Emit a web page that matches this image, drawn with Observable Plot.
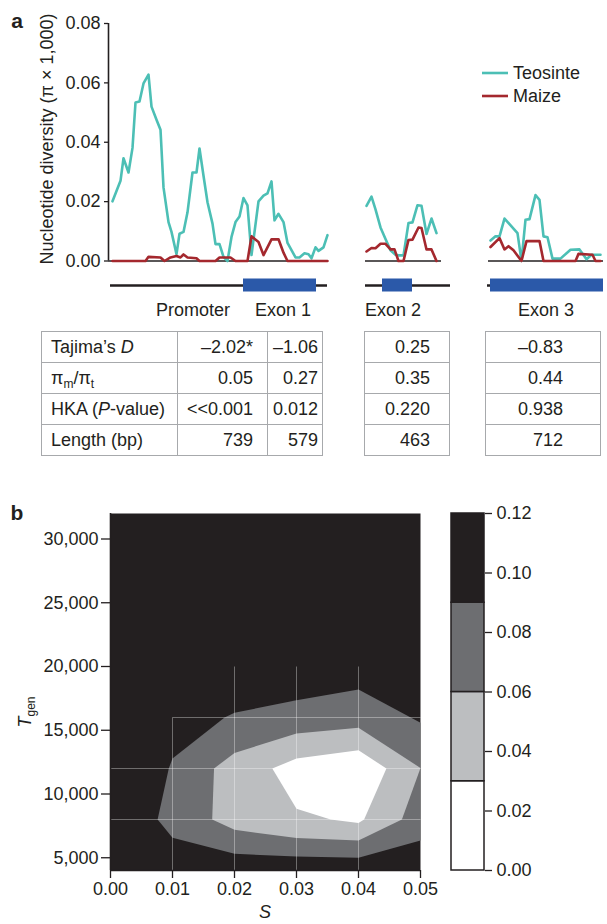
<!DOCTYPE html>
<html><head><meta charset="utf-8">
<script src="https://cdn.jsdelivr.net/npm/d3@7"></script>
<script src="https://cdn.jsdelivr.net/npm/@observablehq/plot@0.6"></script>
<style>
body{margin:0;background:#fff;}
#fig{position:relative;width:607px;height:924px;font-family:"Liberation Sans",Arial,Helvetica,sans-serif;color:#231f20;overflow:hidden;background:#fff}
.abs{position:absolute;white-space:nowrap;line-height:1}
.ctr{transform:translate(-50%,-50%)}
table.t{position:absolute;border-collapse:collapse;font-size:18px;color:#231f20}
table.t td{border:1px solid #a7a9ac;height:31px;padding:0;line-height:1;vertical-align:middle}
sub{font-size:12px;vertical-align:-4px;line-height:0}
</style></head><body><div id="fig"></div>
<script>
// ---------- Panel a data (position along gene segment, arbitrary units; diversity) ----------
const teoPos1 = [4,12,15,20,24,27,31,35,40,43,48,52,55,60,63,68,71,75,79,84,88,91,95,99,104,107,111,115,119,123,127,131,135,139,143,150,155,159,163,166,170,175,179,183,187,191,196,200,203,207,210,215,219];
const teoVal1 = [0.0201,0.027,0.0346,0.0298,0.0381,0.0534,0.0537,0.0598,0.0628,0.052,0.0476,0.0442,0.0248,0.0131,0.0098,0.0023,0.0092,0.0098,0.0164,0.0298,0.0298,0.0379,0.0287,0.0198,0.0126,0.0057,0.0057,0.0014,0.0,0.0081,0.0131,0.015,0.0212,0.0187,0.002,0.0201,0.022,0.0228,0.0268,0.0137,0.0159,0.0131,0.0061,0.0037,0.0012,0.0012,0.0026,0.0023,0.0009,0.0046,0.0034,0.0046,0.0087];
const maizePos1 = [4,37,40,52,56,62,68,72,75,79,88,91,107,111,122,127,139,143,150,155,163,170,175,179,219];
const maizeVal1 = [0,0,0.0014,0.0012,0,0.0012,0.0017,0.0012,0.0022,0.0012,0.0009,0,0,0.0012,0.0012,0,0,0.0083,0.0064,0.002,0.0073,0.0073,0.0028,0,0];
const teoPos2 = [258,263,267,272,277,282,287,290,295,300,304,309,313,318,323,328];
const teoVal2 = [0.0186,0.0217,0.0174,0.0113,0.0074,0.0036,0.0021,0.0019,0.0019,0.0128,0.013,0.0188,0.0186,0.0091,0.0143,0.0094];
const maizePos2 = [258,263,267,272,277,282,286,290,295,300,304,310,313,318,323,328];
const maizeVal2 = [0.0032,0.0044,0.0043,0.0058,0.0058,0.0039,0.0039,0,0,0.0071,0.0072,0.0113,0.0111,0.0039,0.0039,0];
const teoPos3 = [382,387,391,396,401,409,413,417,421,427,431,435,439,444,452,462,471,478,483,487,492];
const teoVal3 = [0.0069,0.0083,0.0083,0.0143,0.0124,0.0094,0,0.0139,0.0141,0.0222,0.0206,0.0083,0.008,0.0008,0.0008,0.0038,0.0039,0.0006,0.0021,0.0021,0.0021];
const maizePos3 = [382,391,396,400,405,413,418,431,435,467,470,484,487,492];
const maizeVal3 = [0.0047,0.0077,0.0039,0.005,0.0036,0,0.0067,0.0067,0,0,0.0024,0.0021,0,0];
const segStart = [0,257,380];
const segEnd = [219,333,495];
const geneStart = [2,257,379];
const geneEnd = [219,342,495];
const exonStart = [135,274,382];
const exonEnd = [208,304,495];
const yTicksA = [0,0.02,0.04,0.06,0.08];
const seriesNames = ["Teosinte","Maize"];
const seriesColors = ["#4cbfb5","#a4282e"];

// ---------- Table data ----------
const rowLabels = ["Tajima’s <i>D</i>","π<sub>m</sub>/π<sub>t</sub>","HKA (<i>P</i>-value)","Length (bp)"];
const promoterVals = ["–2.02*","0.05","<<0.001","739"];
const exon1Vals = ["–1.06","0.27","0.012","579"];
const exon2Vals = ["0.25","0.35","0.220","463"];
const exon3Vals = ["–0.83","0.44","0.938","712"];
const regionLabels = ["Promoter","Exon 1","Exon 2","Exon 3"];

// ---------- Panel b data ----------
const contourLevels = [0.09,0.06,0.03];
const contourFills = ["#6d6e71","#bcbec0","#ffffff"];
const outerS = [0.0076,0.0094,0.01,0.0184,0.02,0.03,0.04,0.05,0.05,0.04,0.03,0.02,0.01];
const outerT = [8000,12000,12780,16000,16370,17360,18190,15580,6360,5000,5100,5310,6570];
const midS = [0.0167,0.02,0.03,0.04,0.05,0.047,0.04,0.03,0.02,0.0164];
const midT = [12000,13220,14750,15200,12040,8000,6360,6540,7190,8000];
const innerS = [0.0261,0.03,0.04,0.0445,0.0409,0.04,0.0355,0.03];
const innerT = [12000,12780,13430,12000,8000,7720,8000,8850];
const gridVS = [0.01,0.02,0.03,0.04];
const gridVTop = [16000,20000,20000,20000];
const gridHT = [16000,12000,8000];
const gridHStart = [0.01,0,0];
const xTicksB = [0,0.01,0.02,0.03,0.04,0.05];
const yTicksB = [5000,10000,15000,20000,25000,30000];
const barBreaks = [0,0.03,0.06,0.09,0.12];
const barColors = ["#ffffff","#bcbec0","#6d6e71","#231f20"];
const barTicks = [0,0.02,0.04,0.06,0.08,0.10,0.12];

const FONT = '"Liberation Sans",Arial,Helvetica,sans-serif';
const INK = "#231f20";
const fig = document.getElementById("fig");
function place(el, left, top){ el.style.position="absolute"; el.style.left=left+"px"; el.style.top=top+"px"; fig.appendChild(el); return el; }
function text(html, x, y, extra){ const d=document.createElement("div"); d.className="abs ctr"; d.innerHTML=html; d.style.left=x+"px"; d.style.top=y+"px"; d.style.fontSize="18px"; if(extra) Object.assign(d.style, extra); fig.appendChild(d); return d; }

// ---------- Panel a ----------
const lines = [];
[[teoPos1,teoVal1],[teoPos2,teoVal2],[teoPos3,teoVal3]].forEach(([p,v],k)=>p.forEach((x,i)=>lines.push({series:"Teosinte",seg:k,pos:x,val:v[i]})));
[[maizePos1,maizeVal1],[maizePos2,maizeVal2],[maizePos3,maizeVal3]].forEach(([p,v],k)=>p.forEach((x,i)=>lines.push({series:"Maize",seg:k,pos:x,val:v[i]})));
const segs = segStart.map((s,i)=>({start:s,end:segEnd[i]}));
const style = {fontFamily:FONT, fontSize:"18px", color:INK, background:"transparent", overflow:"visible"};

const plotA = Plot.plot({
  width:607, height:270, marginLeft:108, marginRight:0, marginTop:23, marginBottom:9.5,
  x:{domain:[0,499], axis:null}, y:{domain:[0,0.08]},
  style,
  marks:[
    Plot.ruleY(segs,{x1:"start",x2:"end",y:0,stroke:INK,strokeWidth:1.5}),
    Plot.line(lines.filter(d=>d.series==="Teosinte"),{x:"pos",y:"val",z:"seg",stroke:seriesColors[0],strokeWidth:2.6}),
    Plot.line(lines.filter(d=>d.series==="Maize"),{x:"pos",y:"val",z:"seg",stroke:seriesColors[1],strokeWidth:2.6}),
    Plot.ruleX([0],{y1:0,y2:0.08,stroke:INK,strokeWidth:1.6}),
    Plot.axisY({ticks:yTicksA,tickFormat:d3.format(".2f"),tickSize:4,tickPadding:4,label:null,strokeWidth:1.3})
  ]
});
place(plotA,0,0);

// gene structure track (same x scale)
const genes = geneStart.map((s,i)=>({start:s,end:geneEnd[i]}));
const exons = exonStart.map((s,i)=>({start:s,end:exonEnd[i]}));
const plotG = Plot.plot({
  width:607, height:30, marginLeft:108, marginRight:0, marginTop:0, marginBottom:0,
  x:{domain:[0,499], axis:null}, y:{domain:[-15,15], axis:null},
  style,
  marks:[
    Plot.ruleY(genes,{x1:"start",x2:"end",y:0,stroke:INK,strokeWidth:2.6}),
    Plot.rect(exons,{x1:"start",x2:"end",y1:-6.5,y2:6.5,fill:"#2b59a9"})
  ]
});
place(plotG,0,270);

// legend
seriesNames.forEach((n,i)=>{
  const d=document.createElement("div"); d.className="abs";
  d.style.fontSize="18px"; d.style.display="flex"; d.style.alignItems="center";
  d.innerHTML=`<svg width="26" height="6" style="margin-right:5px"><line x1="0" x2="26" y1="3" y2="3" stroke="${seriesColors[i]}" stroke-width="2.6"/></svg>${n}`;
  place(d,482,64+i*23);
});

// labels
text("<b>a</b>",17,20,{fontSize:"21px"});
text("Nucleotide diversity (π × 1,000)",47,139,{transform:"translate(-50%,-50%) rotate(-90deg)"});
const labX=[193,283,393,546];
regionLabels.forEach((l,i)=>text(l,labX[i],310));

// tables
function makeTable(left, top, colWidths, rows){
  const t=document.createElement("table"); t.className="t";
  t.style.left=left+"px"; t.style.top=top+"px";
  rows.forEach(r=>{
    const tr=document.createElement("tr");
    r.forEach((c,j)=>{const td=document.createElement("td"); td.innerHTML=c.html; td.style.width=colWidths[j]+"px"; td.style.textAlign=c.align; td.style.paddingLeft=(c.pl||0)+"px"; td.style.paddingRight=(c.pr||0)+"px"; td.style.boxSizing="border-box"; tr.appendChild(td);});
    t.appendChild(tr);
  });
  fig.appendChild(t);
}
const esc = s=>s.replace(/</g,"&lt;");
makeTable(41,331,[136,90,55], rowLabels.map((l,i)=>[
  {html:l,align:"left",pl:9},{html:esc(promoterVals[i]),align:"right",pr:14},{html:esc(exon1Vals[i]),align:"right",pr:4}]));
makeTable(364,331,[85], exon2Vals.map(v=>[{html:v,align:"right",pr:19}]));
makeTable(485,331,[115], exon3Vals.map(v=>[{html:v,align:"right",pr:37}]));

// ---------- Panel b ----------
const toPoly = (S,T)=>S.map((s,i)=>({s,T:T[i]}));
const polys = [toPoly(outerS,outerT),toPoly(midS,midT),toPoly(innerS,innerT)];
const grid = [
  ...gridVS.map((s,i)=>({x1:s,x2:s,y1:4000,y2:gridVTop[i]})),
  ...gridHT.map((t,i)=>({x1:gridHStart[i],x2:0.05,y1:t,y2:t}))
];
const plotB = Plot.plot({
  width:607, height:434, marginLeft:110, marginRight:187, marginTop:23, marginBottom:54,
  x:{domain:[0,0.05]}, y:{domain:[4000,32000]},
  style,
  marks:[
    Plot.frame({fill:"#231f20",stroke:null}),
    ...polys.map((p,i)=>Plot.line(p,{x:"s",y:"T",curve:"linear-closed",fill:contourFills[i],stroke:null})),
    Plot.link(grid,{x1:"x1",x2:"x2",y1:"y1",y2:"y2",stroke:"#ffffff",strokeOpacity:0.35,strokeWidth:1}),
    Plot.axisX({ticks:xTicksB,tickFormat:d3.format(".2f"),tickSize:8,tickPadding:4,label:null,strokeWidth:1.3}),
    Plot.axisY({ticks:yTicksB,tickFormat:d3.format(","),tickSize:9,tickPadding:3,label:null,strokeWidth:1.3}),
    Plot.ruleY([4000],{stroke:INK,strokeWidth:1.6}),
    Plot.ruleX([0],{stroke:INK,strokeWidth:1.6})
  ]
});
place(plotB,0,490);

// colour bar
const bands = barColors.map((c,i)=>({lo:barBreaks[i],hi:barBreaks[i+1],color:c}));
const plotC = Plot.plot({
  width:167, height:434, marginLeft:11, marginRight:123, marginTop:23, marginBottom:54,
  y:{domain:[0,0.12]}, color:{type:"identity"},
  style,
  marks:[
    Plot.rect(bands,{y1:"lo",y2:"hi",fill:"color",stroke:INK,strokeWidth:1.5}),
    Plot.axisY({anchor:"right",ticks:barTicks,tickFormat:d3.format(".2f"),tickSize:7,tickPadding:5,label:null,strokeWidth:1.3})
  ]
});
place(plotC,440,490);

text("<b>b</b>",17,512,{fontSize:"21px"});
text("<i>T</i><sub>gen</sub>",25,712,{transform:"translate(-50%,-50%) rotate(-90deg)"});
text("<i>S</i>",265,912);
</script>
</body></html>
